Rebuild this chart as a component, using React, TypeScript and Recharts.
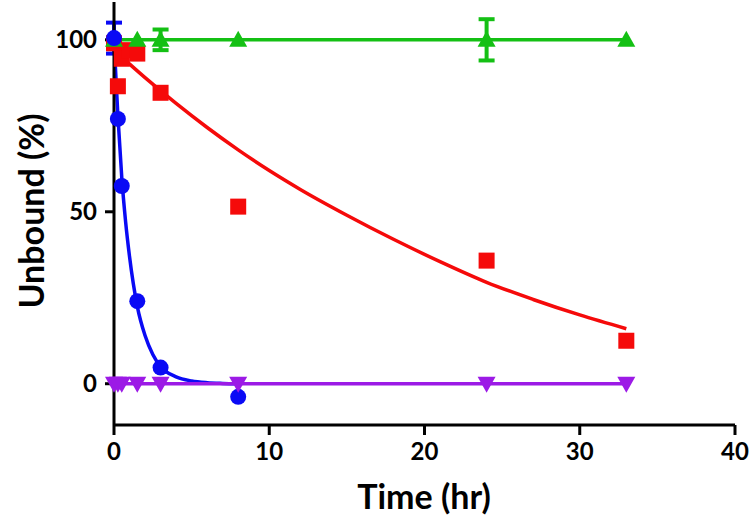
import React from "react";
import {
  ComposedChart,
  ErrorBar,
  Line,
  Scatter,
  XAxis,
  YAxis
} from "recharts";

const blueTime = [0, 0.25, 0.5, 1.5, 3, 8];
const blueUnbound = [100.5, 77, 57.5, 24, 4.7, -3.8];
const blueErr = [4.5, null, null, null, null, null];

const redTime = [0, 0.25, 0.5, 1, 1.5, 3, 8, 24, 33];
const redUnbound = [99, 86.5, 94.5, 97, 96, 84.6, 51.5, 35.8, 12.5];

const greenTime = [0, 1.5, 3, 8, 24, 33];
const greenUnbound = [100, 100, 100, 100, 100, 100];
const greenErr = [null, null, 3, null, 6, null];

const purpleTime = [0, 0.25, 0.5, 1.5, 3, 8, 24, 33];
const purpleUnbound = [0, 0, 0, 0, 0, 0, 0, 0];

// fitted curves
const blueFitTime = [0, 0.25, 0.5, 0.75, 1, 1.5, 2, 2.5, 3, 4, 5, 6, 7, 8];
const blueFitUnbound = [100, 78, 60, 47, 37, 22.5, 14, 8.5, 5, 2, 0.8, 0.3, 0.1, 0];

const redFitTime = [0, 2, 4, 6, 8, 10, 12, 15, 18, 21, 24, 27, 30, 33];
const redFitUnbound = [97, 89, 81.5, 74.5, 68, 62, 56.5, 49, 42, 35.5, 29.5, 24.5, 20, 16];

const xTicks = [0, 10, 20, 30, 40];
const yTicks = [0, 50, 100];

const BLUE = "#0a0af5";
const RED = "#f50a0a";
const GREEN = "#14c014";
const PURPLE = "#9c1ae6";

type Pt = { x: number; y: number; err?: number | null };

const toPoints = (xs: number[], ys: number[], errs?: (number | null)[]): Pt[] =>
  xs.map((x, i) => ({ x, y: ys[i], err: errs ? errs[i] : null }));

const FONT = "Lato, 'Open Sans', sans-serif";

const Circle = (p: any) => <circle cx={p.cx} cy={p.cy} r={8} fill={BLUE} />;
const Square = (p: any) => <rect x={p.cx - 8} y={p.cy - 8} width={16} height={16} fill={RED} />;
const TriUp = (p: any) => (
  <polygon points={`${p.cx},${p.cy - 9} ${p.cx - 9},${p.cy + 7} ${p.cx + 9},${p.cy + 7}`} fill={GREEN} />
);
const TriDown = (p: any) => (
  <polygon points={`${p.cx - 9},${p.cy - 7} ${p.cx + 9},${p.cy - 7} ${p.cx},${p.cy + 9}`} fill={PURPLE} />
);

export default function App() {
  const tickStyle = { fill: "#000", fontSize: 24, fontWeight: 700, fontFamily: FONT };
  return (
    <div style={{ position: "absolute", left: 0, top: 0, width: 752, height: 525, background: "#fff" }}>
      <ComposedChart width={752} height={525} margin={{ top: 2, right: 17, bottom: 0, left: 0 }}>
        <XAxis
          type="number"
          dataKey="x"
          domain={[0, 40]}
          ticks={xTicks}
          height={100}
          stroke="#000"
          strokeWidth={3}
          tickSize={10}
          tickMargin={8}
          tick={tickStyle}
          tickLine={{ stroke: "#000", strokeWidth: 3 }}
          label={{
            content: () => (
              <text x={424} y={495} textAnchor="middle" dominantBaseline="central" fontSize={34} fontWeight={700} fontFamily={FONT} fill="#000">
                Time (hr)
              </text>
            )
          }}
        />
        <YAxis
          type="number"
          dataKey="y"
          domain={[-12, 111]}
          ticks={yTicks}
          width={114}
          stroke="#000"
          strokeWidth={3}
          tickSize={9}
          tickMargin={8}
          tick={tickStyle}
          tickLine={{ stroke: "#000", strokeWidth: 3 }}
          label={{
            content: () => (
              <text x={30} y={211} transform="rotate(-90 30 211)" textAnchor="middle" dominantBaseline="central" fontSize={34} fontWeight={700} fontFamily={FONT} fill="#000">
                Unbound (%)
              </text>
            )
          }}
        />
        <Line data={toPoints(redFitTime, redFitUnbound)} dataKey="y" type="monotone" stroke={RED} strokeWidth={3.5} dot={false} activeDot={false} isAnimationActive={false} />
        <Line data={toPoints(greenTime, greenUnbound)} dataKey="y" type="linear" stroke={GREEN} strokeWidth={3.5} dot={false} activeDot={false} isAnimationActive={false} />
        <Line data={toPoints(blueFitTime, blueFitUnbound)} dataKey="y" type="monotone" stroke={BLUE} strokeWidth={3.5} dot={false} activeDot={false} isAnimationActive={false} />
        <Line data={toPoints(purpleTime, purpleUnbound)} dataKey="y" type="linear" stroke={PURPLE} strokeWidth={3.5} dot={false} activeDot={false} isAnimationActive={false} />
        <Scatter data={toPoints(redTime, redUnbound)} shape={Square} isAnimationActive={false} />
        <Scatter data={toPoints(greenTime, greenUnbound, greenErr)} shape={TriUp} isAnimationActive={false}>
          <ErrorBar dataKey="err" direction="y" width={8} stroke={GREEN} strokeWidth={4} />
        </Scatter>
        <Scatter data={toPoints(blueTime, blueUnbound, blueErr)} shape={Circle} isAnimationActive={false}>
          <ErrorBar dataKey="err" direction="y" width={8} stroke={BLUE} strokeWidth={4} />
        </Scatter>
        <Scatter data={toPoints(purpleTime, purpleUnbound)} shape={TriDown} isAnimationActive={false} />
      </ComposedChart>
    </div>
  );
}
